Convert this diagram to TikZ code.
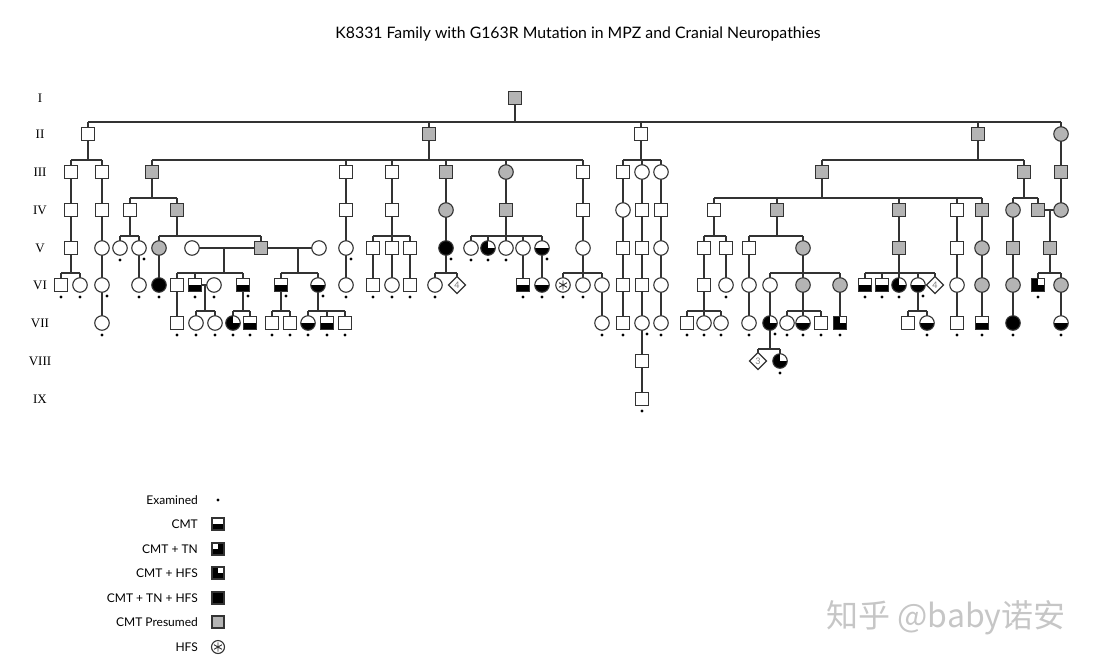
\documentclass[tikz,border=0pt]{standalone}
\usepackage{fontspec}
\setmainfont{Lato}
\newfontfamily\serfont{Liberation Serif}
\newfontfamily\cjkfont{Noto Sans CJK SC}
\usetikzlibrary{shapes.geometric,backgrounds}
\definecolor{lc}{HTML}{333333}
\definecolor{pg}{HTML}{B4B4B4}
\newcommand\sibs[5]{%
  \draw (#1) -- (#1 |- 0,#2);
  \draw (#3 |- 0,#2) -- (#4 |- 0,#2);
  \foreach \c in {#5} {\draw (\c) -- (\c |- 0,#2);}
}
\tikzset{
  sym/.style={draw=lc, line width=1.1pt, fill=white, inner sep=0pt, outer sep=0pt},
  M/.style={sym, rectangle, minimum size=13pt},
  F/.style={sym, circle, minimum size=14.5pt},
  P/.style={fill=pg},
  A/.style={fill=black},
  H/.style={path picture={\fill[black] (path picture bounding box.west) rectangle (path picture bounding box.south east);}},
  QR/.style={fill=black, path picture={\fill[white] (path picture bounding box.center) rectangle (path picture bounding box.north east);}},
  QL/.style={fill=black, path picture={\fill[white] (path picture bounding box.center) rectangle (path picture bounding box.north west);}},
  S/.style={path picture={\draw[line width=0.9pt, shift={(path picture bounding box.center)}] (90:4.6pt)--(270:4.6pt) (30:4.6pt)--(210:4.6pt) (-30:4.6pt)--(150:4.6pt);}},
  D/.style={sym, diamond, minimum size=17pt, text=gray, font=\fontsize{9}{9}\selectfont},
  gen/.style={font=\serfont\fontsize{13}{14}\selectfont, inner sep=0pt},
  leg/.style={anchor=east, inner sep=0pt, font=\fontsize{12}{14}\selectfont},
  exdot/.style={circle, fill=black, inner sep=0pt, minimum size=3.4pt},
}
\begin{document}
\begin{tikzpicture}[x=1pt,y=-1pt]
\useasboundingbox (0,0) rectangle (1099,667);

\node (title) at (578,34) {\fontsize{15.8}{18}\selectfont K8331 Family with G163R Mutation in MPZ and Cranial Neuropathies};

% generation labels
\node[gen] (gI) at (40,98) {I};
\node[gen] (gII) at (40,134) {II};
\node[gen] (gIII) at (40,172) {III};
\node[gen] (gIV) at (40,210) {IV};
\node[gen] (gV) at (40,248) {V};
\node[gen] (gVI) at (40,285) {VI};
\node[gen] (gVII) at (40,323) {VII};
\node[gen] (gVIII) at (40,361) {VIII};
\node[gen] (gIX) at (40,399) {IX};

% I
\node[M,P] (A515) at (515,98) {};
% II
\foreach \x in {88,641} \node[M] (B\x) at (\x,134) {};
\foreach \x in {429,978} \node[M,P] (B\x) at (\x,134) {};
\node[F,P] (B1061) at (1061,134) {};
% III
\foreach \x in {71,102,346,392,583,623} \node[M] (C\x) at (\x,172) {};
\foreach \x in {152,446,822,1024,1061} \node[M,P] (C\x) at (\x,172) {};
\foreach \x in {642,661} \node[F] (C\x) at (\x,172) {};
\node[F,P] (C506) at (506,172) {};
% IV
\foreach \x in {71,102,130,346,392,583,642,661,714,957} \node[M] (D\x) at (\x,210) {};
\foreach \x in {177,506,777,899,982,1038} \node[M,P] (D\x) at (\x,210) {};
\node[F] (D623) at (623,210) {};
\foreach \x in {446,1013,1061} \node[F,P] (D\x) at (\x,210) {};
% V
\foreach \x in {71,373,392,410,623,642,704,726,749,957} \node[M] (E\x) at (\x,248) {};
\foreach \x in {261,899,1013,1050} \node[M,P] (E\x) at (\x,248) {};
\foreach \x in {102,120,139,192,319,346,471,506,523,583,661} \node[F] (E\x) at (\x,248) {};
\foreach \x in {159,803,982} \node[F,P] (E\x) at (\x,248) {};
\node[F,A] (E446) at (446,248) {};
\node[F,QR] (E488) at (488,248) {};
\node[F,H] (E542) at (542,248) {};
% VI
\foreach \x in {61,177,373,410,623,642,704} \node[M] (F\x) at (\x,285) {};
\foreach \x in {195,243,281,523,865,882} \node[M,H] (F\x) at (\x,285) {};
\node[M,QR] (F1038) at (1038,285) {};
\foreach \x in {80,102,139,214,346,392,435,583,602,661,726,749,770,957} \node[F] (F\x) at (\x,285) {};
\foreach \x in {803,840,982,1013,1061} \node[F,P] (F\x) at (\x,285) {};
\node[F,A] (F159) at (159,285) {};
\foreach \x in {318,542,918} \node[F,H] (F\x) at (\x,285) {};
\node[F,QR] (F899) at (899,285) {};
\node[F,S] (F563) at (563,285) {};
\node[D] (F457) at (457,285) {4};
\node[D] (F935) at (935,285) {4};
% VII
\foreach \x in {177,272,290,345,623,687,821,908,957} \node[M] (G\x) at (\x,323) {};
\foreach \x in {250,327,982} \node[M,H] (G\x) at (\x,323) {};
\node[M,QR] (G840) at (840,323) {};
\foreach \x in {102,196,215,602,642,661,704,721,749,787} \node[F] (G\x) at (\x,323) {};
\foreach \x in {308,803,927,1061} \node[F,H] (G\x) at (\x,323) {};
\foreach \x in {233,770} \node[F,QR] (G\x) at (\x,323) {};
\node[F,A] (G1013) at (1013,323) {};
% VIII
\node[M] (H642) at (642,361) {};
\node[D] (H758) at (758,361) {3};
\node[F,QR] (H780) at (780,361) {};
% IX
\node[M] (J642) at (642,399) {};

% marriage drop points
\coordinate (m1) at (224,248);
\coordinate (m2) at (298,248);
\coordinate (m3) at (205,285);
\coordinate (m4) at (1050,210);

\begin{pgfonlayer}{background}
\begin{scope}[color=lc, line width=1.25pt]
% II
\sibs{A515}{122}{B88}{B1061}{B88,B429,B641,B978,B1061}
% III
\sibs{B88}{160}{C71}{C102}{C71,C102}
\sibs{B429}{160}{C152}{C583}{C152,C346,C392,C446,C506,C583}
\sibs{B641}{160}{C623}{C661}{C623,C642,C661}
\sibs{B978}{160}{C822}{C1024}{C822,C1024}
\draw (B1061) -- (C1061);
% IV
\foreach \x in {71,102,346,392,446,506,583,623,642,661,1061} \draw (C\x) -- (D\x);
\sibs{C152}{198}{D130}{D177}{D130,D177}
\sibs{C822}{198}{D714}{D982}{D714,D777,D899,D957,D982}
\sibs{C1024}{198}{D1013}{D1038}{D1013,D1038}
\draw (D1038) -- (D1061);
\draw (m4) -- (E1050);
% V
\foreach \x in {71,102,346,446,583,623,642,661,899,957,982,1013} \draw (D\x) -- (E\x);
\sibs{D130}{236}{E120}{E139}{E120,E139}
\sibs{D177}{236}{E159}{E261}{E159,E261}
\sibs{D392}{236}{E373}{E410}{E373,E392,E410}
\sibs{D506}{236}{E471}{E542}{E471,E488,E506,E523,E542}
\sibs{D714}{236}{E704}{E726}{E704,E726}
\sibs{D777}{236}{E749}{E803}{E749,E803}
\draw (E192) -- (E261);
\draw (E261) -- (E319);
% VI
\foreach \x in {102,139,159,346,373,392,410,523,542,623,642,661,704,726,749,957,982,1013} \draw (E\x) -- (F\x);
\sibs{E71}{273}{F61}{F80}{F61,F80}
\sibs{m1}{273}{F177}{F243}{F177,F195,F243}
\sibs{m2}{273}{F281}{F318}{F281,F318}
\sibs{E446}{273}{F435}{F457}{F435,F457}
\sibs{E583}{273}{F563}{F602}{F563,F583,F602}
\sibs{E803}{273}{F770}{F840}{F770,F803,F840}
\sibs{E899}{273}{F865}{F935}{F865,F882,F899,F918,F935}
\sibs{E1050}{273}{F1038}{F1061}{F1038,F1061}
\draw (F195) -- (F214);
% VII
\foreach \x in {102,177,602,623,642,661,749,770,840,957,982,1013,1061} \draw (F\x) -- (G\x);
\sibs{m3}{311}{G196}{G215}{G196,G215}
\sibs{F243}{311}{G233}{G250}{G233,G250}
\sibs{F281}{311}{G272}{G290}{G272,G290}
\sibs{F318}{311}{G308}{G345}{G308,G327,G345}
\sibs{F704}{311}{G687}{G721}{G687,G704,G721}
\sibs{F803}{311}{G787}{G821}{G787,G803,G821}
\sibs{F918}{311}{G908}{G927}{G908,G927}
% VIII, IX
\draw (G642) -- (H642);
\sibs{G770}{349}{H758}{H780}{H758,H780}
\draw (H642) -- (J642);
\end{scope}
\end{pgfonlayer}

% examined dots
\foreach \n in {E120,E471,E488,E506,F61,F80,F139,F159,F195,F214,F346,F373,F392,F410,F435,F523,F542,F563,F583,F726,F865,F882,F899,F1038,G102,G177,G196,G215,G233,G250,G272,G290,G308,G327,G345,G602,G623,G661,G687,G704,G721,G749,G787,G803,G821,G840,G927,G957,G982,G1013,G1061,H780,J642}
  \fill[black] ([yshift=-12pt]\n.center) circle (1.7pt);
\foreach \n in {E139,E346,E446,E542,F102,F243,F281,F318,F918,G642,G770}
  \fill[black] ([xshift=5pt,yshift=-11pt]\n.center) circle (1.7pt);

% legend
\node[leg] (T1) at (198,500) {Examined};
\node[leg] (T2) at (198,524) {CMT};
\node[leg] (T3) at (198,549) {CMT + TN};
\node[leg] (T4) at (198,573) {CMT + HFS};
\node[leg] (T5) at (198,598) {CMT + TN + HFS};
\node[leg] (T6) at (198,622) {CMT Presumed};
\node[leg] (T7) at (198,647) {HFS};
\node[exdot] (L1) at (218,500) {};
\node[M,H,minimum size=12pt] (L2) at (218,524) {};
\node[M,QL,minimum size=12pt] (L3) at (218,549) {};
\node[M,QR,minimum size=12pt] (L4) at (218,573) {};
\node[M,A,minimum size=12pt] (L5) at (218,598) {};
\node[M,P,minimum size=12pt] (L6) at (218,622) {};
\node[F,S,minimum size=13pt] (L7) at (218,647) {};

% watermark
\node[text=gray!45, font=\cjkfont\fontsize{32}{36}\selectfont] (wm) at (946,618) {知乎 @baby诺安};
\end{tikzpicture}
\end{document}
